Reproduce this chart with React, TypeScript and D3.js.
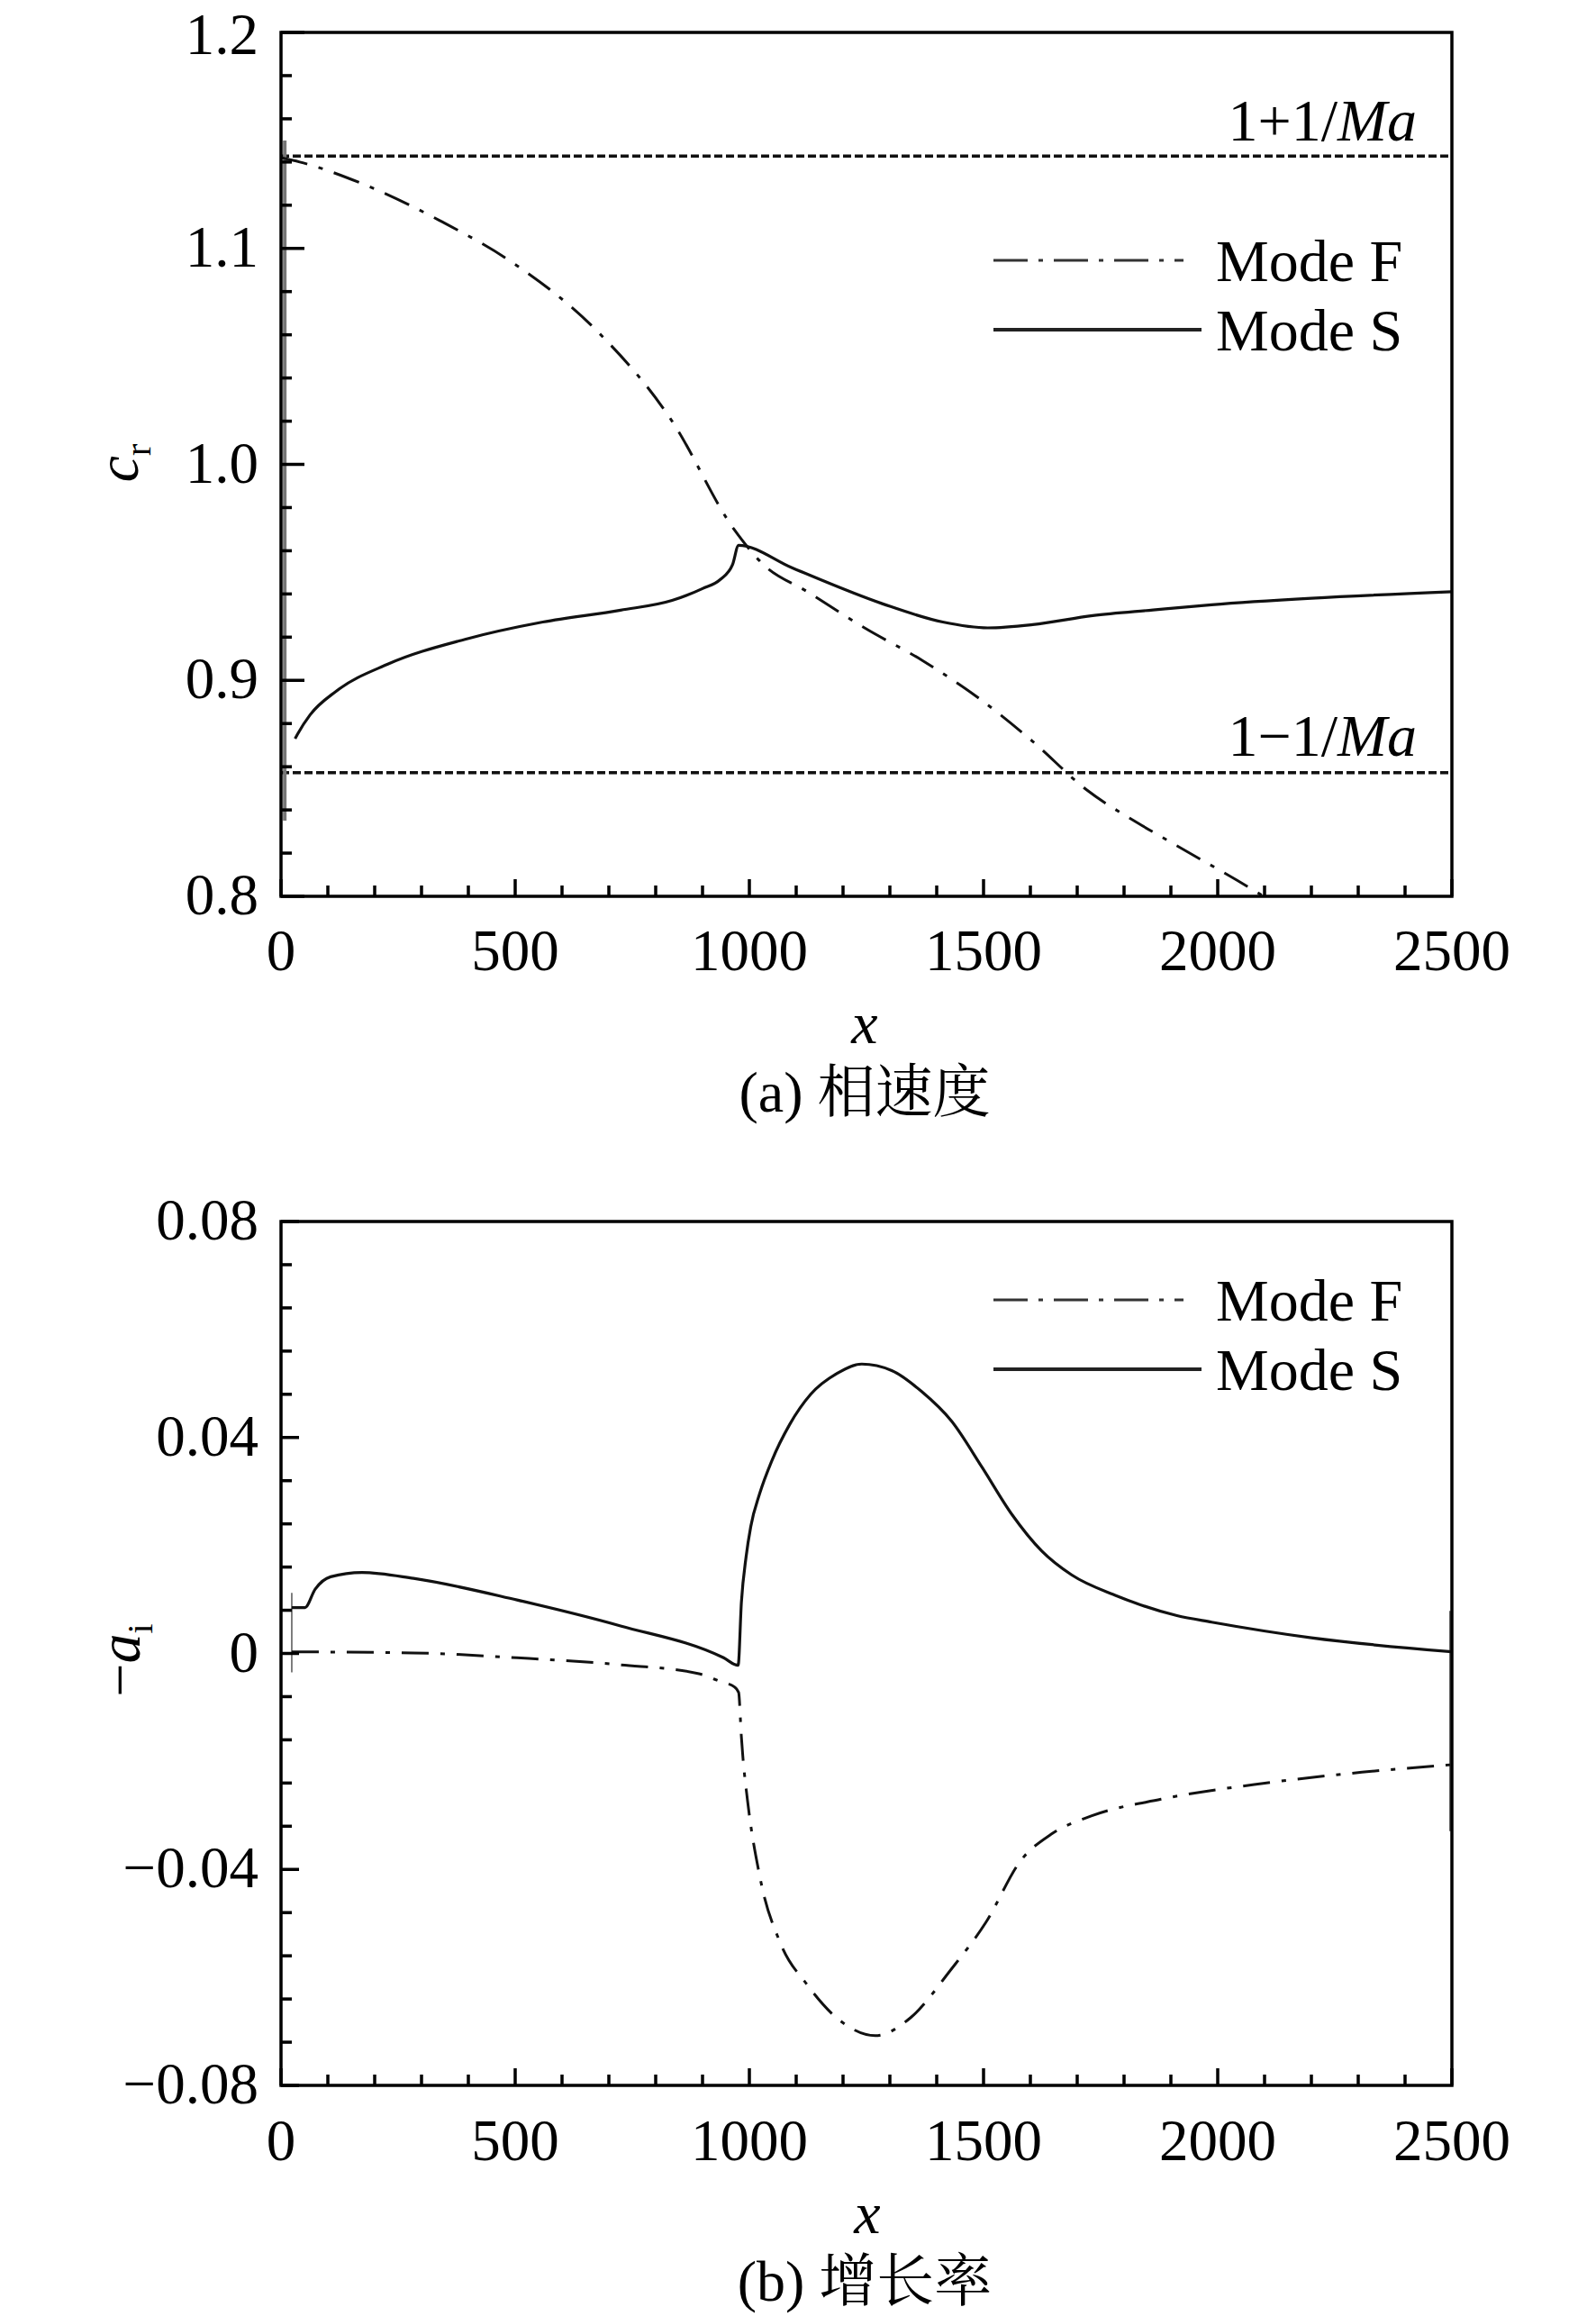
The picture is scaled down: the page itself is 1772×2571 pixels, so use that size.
import * as d3 from "d3";

// ---- data ----
const xMajorTicks = [0, 500, 1000, 1500, 2000, 2500];
const xMinorTicks = [100, 200, 300, 400, 600, 700, 800, 900, 1100, 1200, 1300, 1400, 1600, 1700, 1800, 1900, 2100, 2200, 2300, 2400];

const crMajorTicks = [0.8, 0.9, 1.0, 1.1, 1.2];
const crTickLabels = ["0.8", "0.9", "1.0", "1.1", "1.2"];
const crMinorTicks = [0.82, 0.84, 0.86, 0.88, 0.92, 0.94, 0.96, 0.98, 1.02, 1.04, 1.06, 1.08, 1.12, 1.14, 1.16, 1.18];

const aiMajorTicks = [-0.08, -0.04, 0, 0.04, 0.08];
const aiTickLabels = ["\u22120.08", "\u22120.04", "0", "0.04", "0.08"];
const aiMinorTicks = [-0.072, -0.064, -0.056, -0.048, -0.032, -0.024, -0.016, -0.008, 0.008, 0.016, 0.024, 0.032, 0.048, 0.056, 0.064, 0.072];

// Ma = 7
const crUpperLimit = 1.1428;
const crLowerLimit = 0.8572;

// (a) phase speed
const modeFxA = [0, 40, 173, 338, 504, 669, 835, 967, 1028, 1124, 1246, 1371, 1490, 1605, 1720, 1829, 1900, 2083, 2120];
const modeFcr = [1.142, 1.14, 1.13, 1.113, 1.092, 1.063, 1.02, 0.97, 0.954, 0.941, 0.9243, 0.909, 0.8917, 0.8717, 0.8493, 0.834, 0.825, 0.802, 0.797];

const modeSxA = [30, 35, 62, 118, 228, 393, 559, 725, 835, 900, 938, 964, 977, 1092, 1285, 1413, 1509, 1605, 1733, 1862, 1987, 2200, 2500];
const modeScr = [0.873, 0.875, 0.884, 0.895, 0.9075, 0.919, 0.927, 0.9325, 0.937, 0.9425, 0.9467, 0.9535, 0.9625, 0.952, 0.9354, 0.927, 0.9243, 0.9258, 0.93, 0.9326, 0.935, 0.938, 0.941];

// (b) growth rate
const modeFxB = [23, 283, 504, 725, 890, 938, 968, 977, 983, 986, 996, 1023, 1067, 1122, 1195, 1269, 1345, 1430, 1505, 1580, 1644, 1730, 1879, 2093, 2308, 2500];
const modeFai = [0.0003, 0.0001, -0.0008, -0.0021, -0.0037, -0.0052, -0.0062, -0.0072, -0.0155, -0.019, -0.0272, -0.0416, -0.0538, -0.0612, -0.0681, -0.0708, -0.0674, -0.0586, -0.0498, -0.0383, -0.0335, -0.0301, -0.027, -0.0241, -0.022, -0.0206];

const modeSxB = [23, 51, 73, 106, 173, 283, 504, 725, 945, 976, 983, 993, 1003, 1022, 1048, 1086, 1131, 1188, 1240, 1304, 1368, 1432, 1496, 1561, 1624, 1688, 1785, 1913, 1987, 2200, 2500];
const modeSai = [0.0085, 0.0085, 0.0119, 0.0142, 0.015, 0.0139, 0.0099, 0.0051, -0.0008, -0.0022, 0.0095, 0.0179, 0.0235, 0.0296, 0.0357, 0.0424, 0.048, 0.0519, 0.0536, 0.0524, 0.0485, 0.043, 0.0346, 0.0257, 0.019, 0.01455, 0.01065, 0.007, 0.0058, 0.0029, 0.0003];

const FONT = '"Liberation Serif", "Times New Roman", "Noto Serif CJK SC", "Noto Sans CJK SC", serif';
const FS = 65;
const DASH_DOT = "30 13 5 13";

type Pt = [number, number];
const zip = (xs: number[], ys: number[]): Pt[] => xs.map((x, i) => [x, ys[i]]);

interface PanelProps {
  id: string;
  yDomain: [number, number];
  yRange: [number, number];
  yMajor: number[];
  yMinor: number[];
  yLabels: string[];
  yMajorLen: number;
  modeF: Pt[];
  modeS: Pt[];
  legendY: number;
  xTickBaseline: number;
  children?: React.ReactNode;
}

const left = 312;
const right = 1612;

function Panel(p: PanelProps) {
  const x = d3.scaleLinear().domain([0, 2500]).range([left, right]);
  const y = d3.scaleLinear().domain(p.yDomain).range(p.yRange);
  const bottom = p.yRange[0];
  const top = p.yRange[1];

  const line = d3
    .line<Pt>()
    .x((d) => x(d[0]))
    .y((d) => y(d[1]))
    .curve(d3.curveMonotoneX);

  return (
    <g>
      <defs>
        <clipPath id={p.id}>
          <rect x={left} y={top} width={right - left} height={bottom - top} />
        </clipPath>
      </defs>

      <g clipPath={`url(#${p.id})`} fill="none">
        {p.children}
        <path d={line(p.modeF) ?? ""} stroke="#111" strokeWidth={3} strokeDasharray={DASH_DOT} />
        <path d={line(p.modeS) ?? ""} stroke="#111" strokeWidth={3.2} />
      </g>

      {/* ticks */}
      <g stroke="#000" strokeWidth={3.5}>
        {xMajorTicks.map((t) => (
          <line key={`xM${t}`} x1={x(t)} x2={x(t)} y1={bottom} y2={bottom - 19} />
        ))}
        {xMinorTicks.map((t) => (
          <line key={`xm${t}`} x1={x(t)} x2={x(t)} y1={bottom} y2={bottom - 12} />
        ))}
        {p.yMajor.map((t) => (
          <line key={`yM${t}`} x1={left} x2={left + p.yMajorLen} y1={y(t)} y2={y(t)} />
        ))}
        {p.yMinor.map((t) => (
          <line key={`ym${t}`} x1={left} x2={left + 12} y1={y(t)} y2={y(t)} />
        ))}
      </g>

      <rect x={left} y={top} width={right - left} height={bottom - top} fill="none" stroke="#000" strokeWidth={3.5} />

      {/* tick labels */}
      <g fontFamily={FONT} fontSize={FS} fill="#000">
        {xMajorTicks.map((t) => (
          <text key={`xl${t}`} x={x(t)} y={p.xTickBaseline} textAnchor="middle">
            {t}
          </text>
        ))}
        {p.yMajor.map((t, i) => (
          <text key={`yl${t}`} x={287} y={Math.max(y(t) + 20, 60)} textAnchor="end">
            {p.yLabels[i]}
          </text>
        ))}
      </g>

      {/* legend */}
      <g fontFamily={FONT} fontSize={66}>
        <line x1={1103} x2={1314} y1={p.legendY - 23} y2={p.legendY - 23} stroke="#333" strokeWidth={3.2} strokeDasharray="38 12 5 12" />
        <text x={1350} y={p.legendY}>Mode F</text>
        <line x1={1103} x2={1334} y1={p.legendY + 54} y2={p.legendY + 54} stroke="#222" strokeWidth={4} />
        <text x={1350} y={p.legendY + 77}>Mode S</text>
      </g>
    </g>
  );
}

export default function App() {
  const xA = d3.scaleLinear().domain([0, 2500]).range([left, right]);
  const yA = d3.scaleLinear().domain([0.8, 1.2]).range([995, 36]);
  const yB = d3.scaleLinear().domain([-0.08, 0.08]).range([2315, 1356]);

  return (
    <svg
      width={1772}
      height={2571}
      viewBox="0 0 1772 2571"
      style={{ position: "absolute", left: 0, top: 0, background: "#fff" }}
    >
      <rect width={1772} height={2571} fill="#fff" />

      {/* (a) phase speed */}
      <Panel
        id="clipA"
        yDomain={[0.8, 1.2]}
        yRange={[995, 36]}
        yMajor={crMajorTicks}
        yMinor={crMinorTicks}
        yLabels={crTickLabels}
        yMajorLen={26}
        modeF={zip(modeFxA, modeFcr)}
        modeS={zip(modeSxA, modeScr)}
        legendY={312}
        xTickBaseline={1077}
      >
        <line x1={left} x2={right} y1={yA(crUpperLimit)} y2={yA(crUpperLimit)} stroke="#111" strokeWidth={3.5} strokeDasharray="9 4" />
        <line x1={left} x2={right} y1={yA(crLowerLimit)} y2={yA(crLowerLimit)} stroke="#111" strokeWidth={3.5} strokeDasharray="9 4" />
        <line x1={xA(8)} x2={xA(8)} y1={yA(1.15)} y2={yA(0.835)} stroke="#777" strokeWidth={4} />
      </Panel>

      <g fontFamily={FONT} fontSize={66} fill="#000">
        <text x={1573} y={156} textAnchor="end">
          1+1/<tspan fontStyle="italic">Ma</tspan>
        </text>
        <text x={1573} y={839} textAnchor="end">
          1{"\u2212"}1/<tspan fontStyle="italic">Ma</tspan>
        </text>
        <text transform="translate(153,514) rotate(-90)" textAnchor="middle">
          <tspan fontStyle="italic">c</tspan>
          <tspan fontSize={40} dy={14}>r</tspan>
        </text>
        <text x={960} y={1158} textAnchor="middle" fontStyle="italic">x</text>
        <text x={960} y={1234} textAnchor="middle" fontSize={64}>(a) 相速度</text>
      </g>

      {/* (b) growth rate */}
      <Panel
        id="clipB"
        yDomain={[-0.08, 0.08]}
        yRange={[2315, 1356]}
        yMajor={aiMajorTicks}
        yMinor={aiMinorTicks}
        yLabels={aiTickLabels}
        yMajorLen={20}
        modeF={zip(modeFxB, modeFai)}
        modeS={zip(modeSxB, modeSai)}
        legendY={1466}
        xTickBaseline={2398}
      >
        <line x1={xA(23)} x2={xA(23)} y1={yB(0.0112)} y2={yB(-0.0035)} stroke="#555" strokeWidth={1.5} />
        <line x1={xA(2498)} x2={xA(2498)} y1={yB(0.0079)} y2={yB(-0.0329)} stroke="#666" strokeWidth={4} />
      </Panel>

      <g fontFamily={FONT} fontSize={66} fill="#000">
        <text transform="translate(155,1843) rotate(-90)" textAnchor="middle">
          {"\u2212"}
          <tspan fontStyle="italic">a</tspan>
          <tspan fontSize={40} dy={14}>i</tspan>
        </text>
        <text x={963} y={2479} textAnchor="middle" fontStyle="italic">x</text>
        <text x={960} y={2554} textAnchor="middle" fontSize={64}>(b) 增长率</text>
      </g>
    </svg>
  );
}
